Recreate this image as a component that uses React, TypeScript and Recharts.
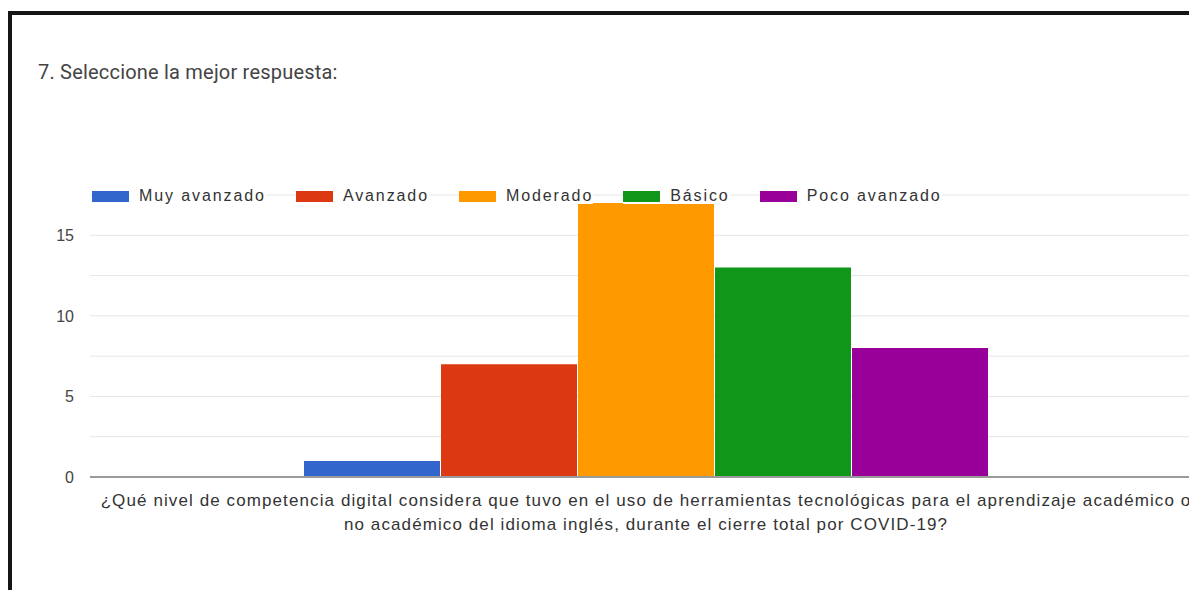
import React from "react";
import { BarChart, Bar, XAxis, YAxis, CartesianGrid } from "recharts";

const title = "7. Seleccione la mejor respuesta:";
const category = "¿Qué nivel de competencia digital considera que tuvo en el uso de herramientas tecnológicas para el aprendizaje académico o no académico del idioma inglés, durante el cierre total por COVID-19?";
const categoryLines = [
  "¿Qué nivel de competencia digital considera que tuvo en el uso de herramientas tecnológicas para el aprendizaje académico o",
  "no académico del idioma inglés, durante el cierre total por COVID-19?",
];
const seriesNames = ["Muy avanzado", "Avanzado", "Moderado", "Básico", "Poco avanzado"];
const seriesValues = [1, 7, 17, 13, 8];
const seriesColors = ["#3366cc", "#dc3912", "#ff9900", "#109618", "#990099"];
const yTicks = [0, 2.5, 5, 7.5, 10, 12.5, 15, 17.5];

const row: Record<string, string | number> = { q: category };
seriesNames.forEach((n, i) => {
  row[n] = seriesValues[i];
});
const data = [row];

const font = "Arial, 'Liberation Sans', sans-serif";

function QuestionTick(props: any) {
  const { x, y } = props;
  return (
    <text
      x={x}
      y={y}
      textAnchor="middle"
      fill="#333"
      style={{ fontFamily: font, fontSize: 17, letterSpacing: 1.1 }}
    >
      <tspan x={x} dy={21}>{categoryLines[0]}</tspan>
      <tspan x={x} dy={24}>{categoryLines[1]}</tspan>
    </text>
  );
}

export default function App() {
  return (
    <div
      style={{
        position: "relative",
        width: 1189,
        height: 582,
        overflow: "hidden",
        background: "#fff",
      }}
    >
      <div
        style={{
          position: "absolute",
          left: 0,
          top: 3,
          width: 1300,
          height: 700,
          border: "4px solid #151515",
          boxSizing: "border-box",
        }}
      />

      <div
        style={{
          position: "absolute",
          left: 30,
          top: 54,
          fontFamily: "Roboto, Arial, sans-serif",
          fontSize: 20,
          lineHeight: "20px",
          letterSpacing: 0.2,
          color: "#444",
          whiteSpace: "nowrap",
        }}
      >
        {title}
      </div>

      <div style={{ position: "absolute", left: 0, top: 0 }}>
        <BarChart
          width={1240}
          height={540}
          data={data}
          margin={{ top: 187, right: 46, bottom: 41, left: 0 }}
          barSize={136}
          barGap={1}
        >
          <CartesianGrid vertical={false} stroke="#e6e6e6" />
          <XAxis
            dataKey="q"
            axisLine={{ stroke: "#9a9a9a", strokeWidth: 2 }}
            tickLine={false}
            tick={<QuestionTick />}
            interval={0}
          />
          <YAxis
            width={82}
            domain={[0, 17.5]}
            ticks={yTicks}
            tickFormatter={(v: number) => (v % 5 === 0 ? String(v) : "")}
            axisLine={false}
            tickLine={false}
            tickMargin={10}
            tick={{ fill: "#444", fontSize: 16, fontFamily: font }}
          />
          {seriesNames.map((n, i) => (
            <Bar
              key={n}
              dataKey={n}
              name={n}
              fill={seriesColors[i]}
              isAnimationActive={false}
            />
          ))}
        </BarChart>
      </div>

      <div
        style={{
          position: "absolute",
          left: 84,
          top: 180,
          height: 16,
          display: "flex",
          alignItems: "center",
          fontFamily: font,
          fontSize: 16,
          lineHeight: "16px",
          color: "#333",
        }}
      >
        {seriesNames.map((n, i) => (
          <div
            key={n}
            style={{
              display: "flex",
              alignItems: "center",
              background: "#fff",
              marginRight: 30,
            }}
          >
            <span
              style={{
                width: 37,
                height: 11,
                background: seriesColors[i],
                marginRight: 10,
                display: "inline-block",
              }}
            />
            <span style={{ letterSpacing: 1.9, whiteSpace: "nowrap" }}>{n}</span>
          </div>
        ))}
      </div>
    </div>
  );
}
